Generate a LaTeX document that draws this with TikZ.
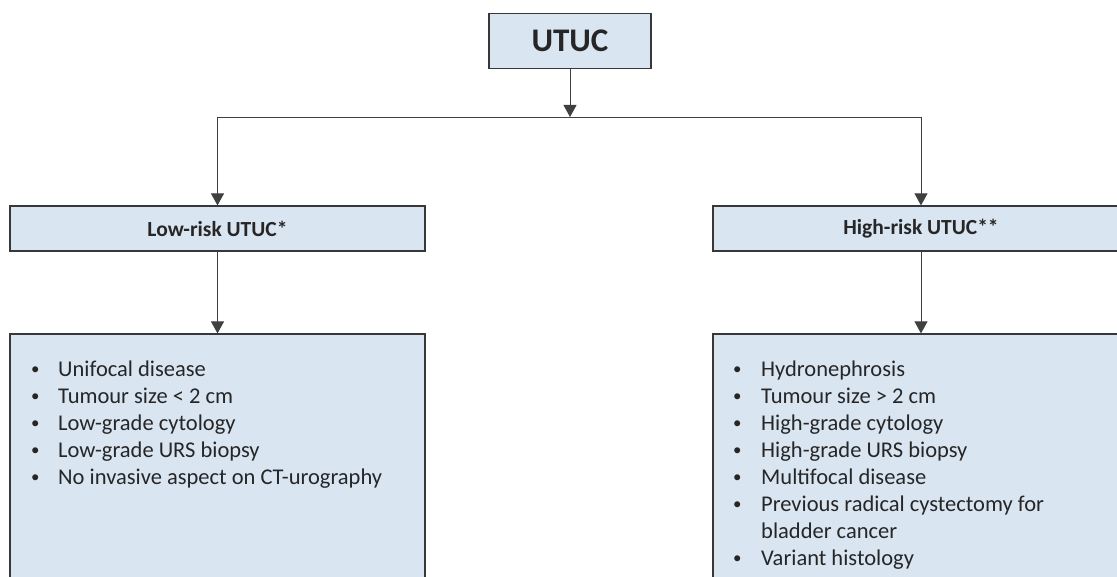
\documentclass[tikz,border=0pt]{standalone}
\usepackage{fontspec}
\setmainfont{Carlito}
\usetikzlibrary{arrows.meta}
\definecolor{boxfill}{HTML}{DAE5F2}
\definecolor{boxline}{HTML}{383838}
\definecolor{connc}{HTML}{404040}
\newcommand{\bul}{\raisebox{0.12em}{\scalebox{0.75}{•}}}
\begin{document}
\begin{tikzpicture}[x=1pt,y=-1pt,
  box/.style={draw=boxline, line width=1.2pt, fill=boxfill, inner sep=0pt},
  conn/.style={draw=connc, line width=0.9pt},
  arr/.style={conn, -{Triangle[length=12pt,width=13pt]}},
  listtext/.style={anchor=base west, inner sep=0pt, font=\fontsize{22.5}{27}\selectfont, text=black!85}]
\useasboundingbox (0,0) rectangle (1117,577);
\clip (0,0) rectangle (1117,577);
% boxes
\node[box, minimum width=162pt, minimum height=55pt, font=\bfseries\fontsize{33}{38}\selectfont, text=black!85] (utuc) at (570,41) {UTUC};
\node[box, minimum width=415pt, minimum height=45pt, font=\bfseries\fontsize{21.5}{25}\selectfont, text=black!85] (low) at (217.5,228.5) {Low-risk UTUC*};
\node[box, minimum width=416pt, minimum height=45pt, font=\bfseries\fontsize{21.5}{25}\selectfont, text=black!85] (high) at (921,228.5) {High-risk UTUC**};
\node[box, minimum width=415pt, minimum height=280pt] (lowlist) at (217.5,474) {};
\node[box, minimum width=416pt, minimum height=280pt] (highlist) at (921,474) {};
% texts
\node[listtext] (lowtext) at (31,377) {\begin{tabular}[t]{@{}p{27pt}@{}l@{}}
\bul & Unifocal disease\\
\bul & Tumour size < 2 cm\\
\bul & Low-grade cytology\\
\bul & Low-grade URS biopsy\\
\bul & No invasive aspect on CT-urography
\end{tabular}};
\node[listtext] (hightext) at (733,377) {\begin{tabular}[t]{@{}p{28pt}@{}l@{}}
\bul & Hydronephrosis\\
\bul & Tumour size > 2 cm\\
\bul & High-grade cytology\\
\bul & High-grade URS biopsy\\
\bul & Multifocal disease\\
\bul & Previous radical cystectomy for\\
  & bladder cancer\\
\bul & Variant histology
\end{tabular}};
% connectors
\coordinate (split) at (570,117);
\coordinate (jl) at (low.north |- split);
\coordinate (jh) at (high.north |- split);
\draw[arr] (utuc.south) -- (split);
\draw[conn] (jl) -- (jh);
\draw[arr] (jl) -- (low.north);
\draw[arr] (jh) -- (high.north);
\draw[arr] (low.south) -- (lowlist.north);
\draw[arr] (high.south) -- (highlist.north);
\end{tikzpicture}
\end{document}
